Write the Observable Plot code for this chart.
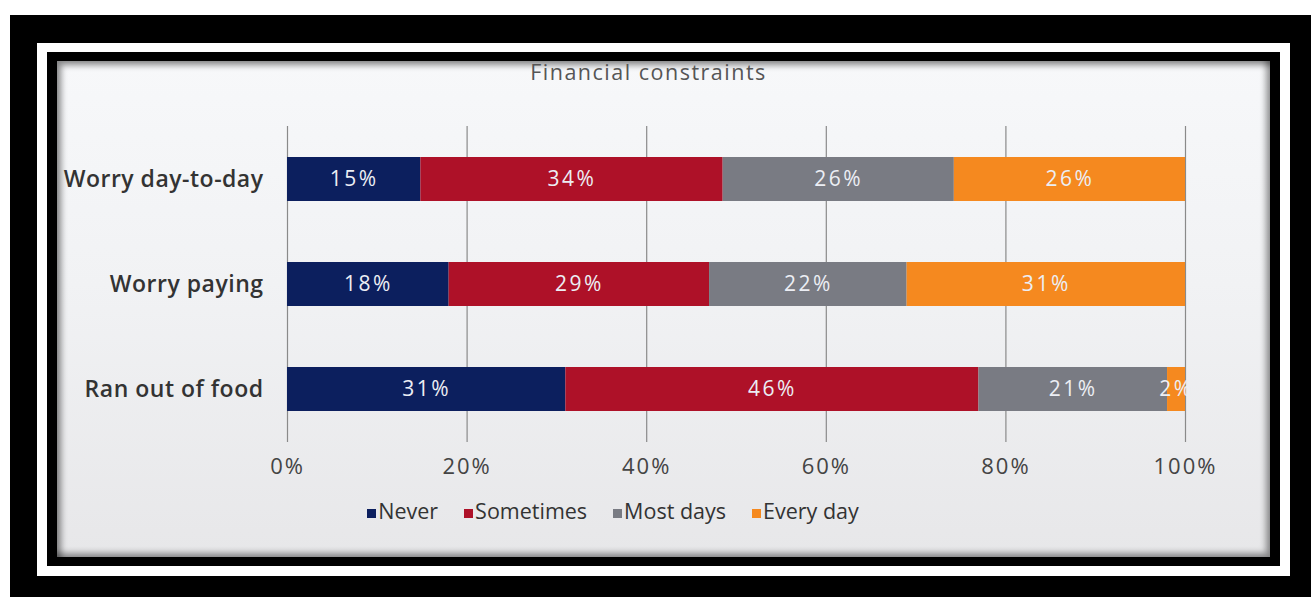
<!DOCTYPE html>
<html>
<head>
<meta charset="utf-8">
<script src="https://cdn.jsdelivr.net/npm/d3@7"></script>
<script src="https://cdn.jsdelivr.net/npm/@observablehq/plot@0.6"></script>
<style>
  html, body { margin: 0; padding: 0; background: #ffffff; }
  body { width: 1311px; height: 597px; position: relative; overflow: hidden; font-family: "Open Sans", sans-serif; }
  .frame { position: absolute; }
  #outer { left: 10px; top: 15px; width: 1320px; height: 600px; background: #000; }
  #white { left: 37px; top: 43px; width: 1253px; height: 533px; background: #fff; }
  #inner { left: 47px; top: 52px; width: 1233px; height: 514px; background: #000; }
  #panel { left: 57px; top: 61px; width: 1213px; height: 496px;
           background: linear-gradient(#f7f8fa 0%, #f1f2f4 45%, #e7e7e9 100%);
           box-shadow: inset 4px 4px 6px rgba(0,0,0,0.45), inset -4px -4px 6px rgba(0,0,0,0.4); }
  #title { position: absolute; left: 57px; width: 1183px; top: 57px; text-align: center;
           font-size: 21.5px; color: #555; letter-spacing: 1.5px; }
  #chart { position: absolute; left: 57px; top: 100px; }
  #legend { position: absolute; left: 0; width: 1226px; top: 496px; text-align: center;
            font-size: 21.5px; color: #333; white-space: nowrap; }
  .item { display: inline-block; margin: 0 13px; }
  .sw { display: inline-block; width: 9px; height: 9px; margin-right: 2px; vertical-align: 1px; }
  #chart g[aria-label="x-axis tick label"] text { letter-spacing: 2px; }
  #chart g[aria-label="y-axis tick label"] text { letter-spacing: 0.5px; }
  #chart g[aria-label="text"] text { letter-spacing: 2.5px; }
</style>
</head>
<body>
<div class="frame" id="outer"></div>
<div class="frame" id="white"></div>
<div class="frame" id="inner"></div>
<div class="frame" id="panel"></div>
<div id="title">Financial constraints</div>
<div id="chart"></div>
<div id="legend"></div>
<script>
const questions = ["Worry day-to-day", "Worry paying", "Ran out of food"];
const responses = ["Never", "Sometimes", "Most days", "Every day"];
const colors = ["#0c1f5e", "#ae1128", "#797b83", "#f5891f"];
const never     = [15, 18, 31];
const sometimes = [34, 29, 46];
const mostDays  = [26, 22, 21];
const everyDay  = [26, 31, 2];
const xTicks = [0, 20, 40, 60, 80, 100];

const series = [never, sometimes, mostDays, everyDay];
const data = [];
questions.forEach((q, i) => {
  responses.forEach((r, j) => data.push({question: q, response: r, value: series[j][i]}));
});

const plot = Plot.plot({
  width: 1213,
  height: 400,
  marginLeft: 230,
  marginRight: 85,
  marginTop: 26,
  marginBottom: 58,
  style: {background: "transparent", fontFamily: "'Open Sans', sans-serif"},
  x: {domain: [0, 100], percent: true, label: null},
  y: {domain: questions, label: null, paddingInner: 0.58, paddingOuter: 0.29},
  color: {domain: responses, range: colors},
  marks: [
    Plot.ruleX(xTicks, {x: d => d / 100, stroke: "#8a8a8a", strokeWidth: 1.2}),
    Plot.barX(data, Plot.stackX({x: "value", y: "question", fill: "response", offset: "normalize", order: responses})),
    Plot.text(data, Plot.stackX({x: "value", y: "question", z: "response", offset: "normalize", order: responses,
      text: d => d.value + "%", fill: "#eceef4", fontSize: 21})),
    Plot.axisX({ticks: xTicks, tickFormat: d => d + "%", tickSize: 0, tickPadding: 16, fontSize: 22, fill: "#444", label: null}),
    Plot.axisY({tickSize: 0, tickPadding: 24, fontSize: 23, fontWeight: 600, fill: "#333", label: null})
  ]
});
document.getElementById("chart").appendChild(plot);

const legend = document.getElementById("legend");
responses.forEach((r, j) => {
  const item = document.createElement("span");
  item.className = "item";
  const sw = document.createElement("span");
  sw.className = "sw";
  sw.style.background = colors[j];
  item.appendChild(sw);
  item.appendChild(document.createTextNode(r));
  legend.appendChild(item);
});
</script>
</body>
</html>
